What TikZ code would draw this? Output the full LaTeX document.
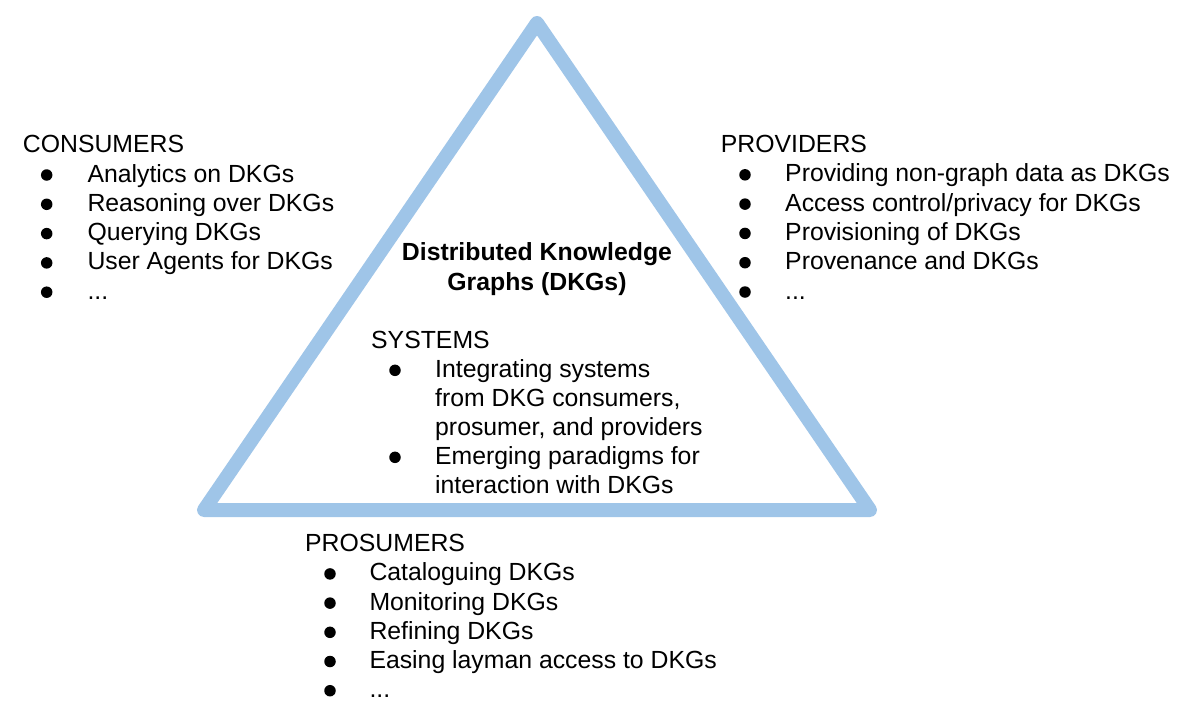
\documentclass[tikz,border=0pt]{standalone}
\usepackage{fontspec}
\setmainfont{Liberation Sans}
\definecolor{tri}{HTML}{9FC5E8}
\begin{document}
\begin{tikzpicture}[x=1pt,y=-1pt,
  txt/.style={anchor=base west, inner sep=0pt, font=\fontsize{24.8}{29.3}\selectfont},
  ttl/.style={anchor=base, inner sep=0pt, font=\fontsize{24.8}{29.3}\selectfont\bfseries},
  dot/.style={circle, fill=black, draw=none, inner sep=0pt, minimum size=11.5pt},
  edge/.style={draw=tri, line width=14pt, line join=round}]
\useasboundingbox (0,0) rectangle (1200,716);
% triangle
\coordinate (A) at (537,23);
\coordinate (L) at (204,510);
\coordinate (R) at (870,510);
\path[edge] (A) -- (L) -- (R) -- cycle;
% consumers
\node[txt] (cons) at (22.7,152.7) {CONSUMERS};
\node[txt] (cons-1) at (87.3,182.0) {Analytics on DKGs};
\node[txt] (cons-2) at (87.3,211.3) {Reasoning over DKGs};
\node[txt] (cons-3) at (87.3,240.6) {Querying DKGs};
\node[txt] (cons-4) at (87.3,269.9) {User Agents for DKGs};
\node[txt] (cons-5) at (87.3,299.2) {...};
\node[dot] (consb-1) at (46.7,175.0) {};
\node[dot] (consb-2) at (46.7,204.3) {};
\node[dot] (consb-3) at (46.7,233.6) {};
\node[dot] (consb-4) at (46.7,262.9) {};
\node[dot] (consb-5) at (46.7,292.2) {};
% providers
\node[txt] (prov) at (720.7,152.5) {PROVIDERS};
\node[txt] (prov-1) at (785,181.8) {Providing non-graph data as DKGs};
\node[txt] (prov-2) at (785,211.1) {Access control/privacy for DKGs};
\node[txt] (prov-3) at (785,240.4) {Provisioning of DKGs};
\node[txt] (prov-4) at (785,269.7) {Provenance and DKGs};
\node[txt] (prov-5) at (785,299.0) {...};
\node[dot] (provb-1) at (745,174.8) {};
\node[dot] (provb-2) at (745,204.1) {};
\node[dot] (provb-3) at (745,233.4) {};
\node[dot] (provb-4) at (745,262.7) {};
\node[dot] (provb-5) at (745,292.0) {};
% title
\node[ttl] (title1) at (537,260.7) {Distributed Knowledge};
\node[ttl] (title2) at (537,290.3) {Graphs (DKGs)};
% systems
\node[txt] (sys) at (371,348.3) {SYSTEMS};
\node[txt] (sys-1) at (435,377.3) {Integrating systems};
\node[txt] (sys-2) at (435,406.3) {from DKG consumers,};
\node[txt] (sys-3) at (435,435.3) {prosumer, and providers};
\node[txt] (sys-4) at (435,464.3) {Emerging paradigms for};
\node[txt] (sys-5) at (435,493.3) {interaction with DKGs};
\node[dot] (sysb-1) at (395,370.3) {};
\node[dot] (sysb-4) at (395,457.3) {};
% prosumers
\node[txt] (pros) at (305,551.7) {PROSUMERS};
\node[txt] (pros-1) at (369.3,580.9) {Cataloguing DKGs};
\node[txt] (pros-2) at (369.3,610.1) {Monitoring DKGs};
\node[txt] (pros-3) at (369.3,639.3) {Refining DKGs};
\node[txt] (pros-4) at (369.3,668.5) {Easing layman access to DKGs};
\node[txt] (pros-5) at (369.3,697.7) {...};
\node[dot] (prosb-1) at (330,573.9) {};
\node[dot] (prosb-2) at (330,603.1) {};
\node[dot] (prosb-3) at (330,632.3) {};
\node[dot] (prosb-4) at (330,661.5) {};
\node[dot] (prosb-5) at (330,690.7) {};
\end{tikzpicture}
\end{document}
